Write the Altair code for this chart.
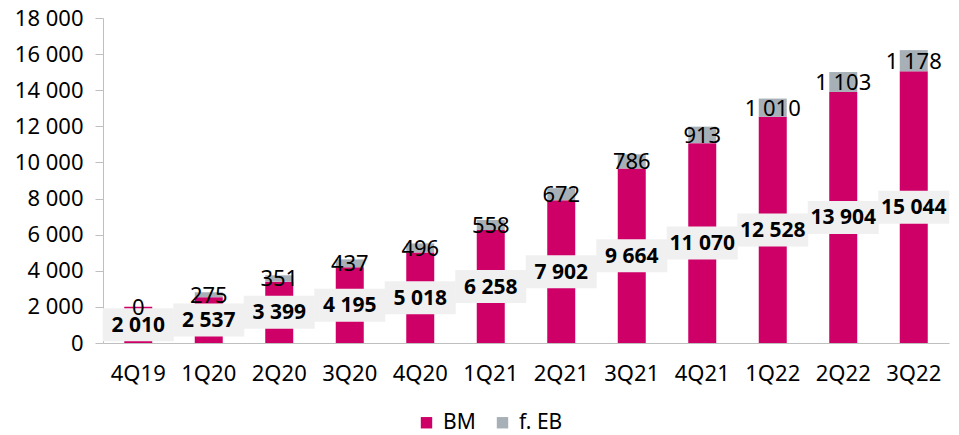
import altair as alt
import pandas as pd

quarters = ["4Q19", "1Q20", "2Q20", "3Q20", "4Q20", "1Q21", "2Q21", "3Q21", "4Q21", "1Q22", "2Q22", "3Q22"]
bm = [2010, 2537, 3399, 4195, 5018, 6258, 7902, 9664, 11070, 12528, 13904, 15044]
eb = [0, 275, 351, 437, 496, 558, 672, 786, 913, 1010, 1103, 1178]
series = ["BM", "f. EB"]
colors = ["#CE0067", "#A8B0B7"]
y_ticks = [0, 2000, 4000, 6000, 8000, 10000, 12000, 14000, 16000, 18000]

rows = []
for q, b, e in zip(quarters, bm, eb):
    rows.append({"q": q, "series": "BM", "value": b, "y0": 0, "y1": b, "mid": b / 2, "ord": 0})
    rows.append({"q": q, "series": "f. EB", "value": e, "y0": b, "y1": b + e, "mid": b + e / 2, "ord": 1})
df = pd.DataFrame(rows)

FONT = "Noto Sans"

x_scale = alt.Scale(paddingInner=0.0, paddingOuter=0.0)
y_scale = alt.Scale(domain=[0, 18000], nice=False)
x_enc = alt.X("q:N", sort=quarters, title=None, scale=x_scale)
y_axis = alt.Axis(values=y_ticks, format=",d")

base = alt.Chart(df)

bars = base.mark_bar(width=28).encode(
    x=x_enc,
    y=alt.Y("y1:Q", scale=y_scale, title=None, axis=y_axis),
    y2="y0:Q",
    color=alt.Color("series:N", scale=alt.Scale(domain=series, range=colors),
                    legend=alt.Legend(title=None, orient="none", direction="horizontal",
                                      legendX=313, legendY=394, symbolType="square",
                                      symbolSize=130, symbolStrokeWidth=0, labelFontSize=21,
                                      labelFont=FONT, labelColor="#000000", columnPadding=16,
                                      labelOffset=6, labelLimit=0)),
    order=alt.Order("ord:Q"),
)

boxes = base.transform_filter(alt.datum.series == "BM").mark_tick(
    thickness=33, size=71, color="#F0F0F0", opacity=1
).encode(x=x_enc, y=alt.Y("mid:Q", scale=y_scale, title=None, axis=y_axis))

bm_text = base.transform_filter(alt.datum.series == "BM").mark_text(
    font=FONT, fontSize=21, fontWeight="bold", color="#000000", baseline="middle", dy=1
).encode(x=x_enc, y=alt.Y("mid:Q", scale=y_scale, title=None, axis=y_axis),
         text=alt.Text("value:Q", format=",d"))

eb_text = base.transform_filter(alt.datum.series == "f. EB").mark_text(
    font=FONT, fontSize=22, color="#000000", baseline="middle", dy=1
).encode(x=x_enc, y=alt.Y("mid:Q", scale=y_scale, title=None, axis=y_axis),
         text=alt.Text("value:Q", format=",d"))

chart = alt.layer(bars, boxes, eb_text, bm_text).properties(
    width=846, height=325,
    autosize=alt.AutoSizeParams(type="none"),
    padding={"left": 103, "top": 18, "right": 10, "bottom": 92},
).configure(
    locale={"number": {"decimal": ",", "thousands": " ", "grouping": [3], "currency": ["", ""]}}
).configure_view(stroke=None).configure_axisX(
    labelAngle=0, ticks=False, labelFontSize=22, labelColor="#000000",
    labelPadding=20, domainColor="#BFBFBF", labelFont=FONT, grid=False
).configure_axisY(
    grid=False, labelFontSize=22, labelColor="#000000", labelFont=FONT, tickSize=8,
    tickColor="#BFBFBF", domainColor="#BFBFBF", labelPadding=12, labelOverlap=False, labelBound=False
)

chart.save("out.html", embed_options={"renderer": "svg", "actions": False})
